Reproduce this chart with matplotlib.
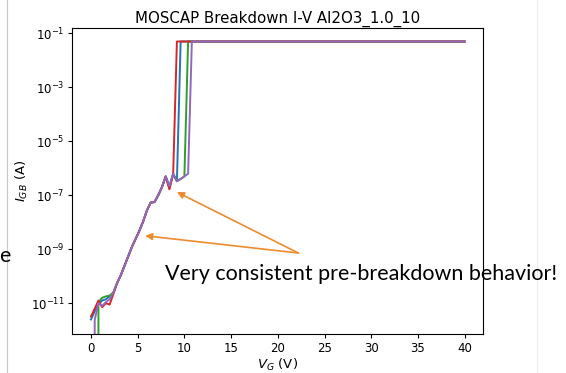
import numpy as np
import matplotlib.pyplot as plt
from matplotlib.lines import Line2D
from matplotlib.ticker import NullLocator

title = "MOSCAP Breakdown I-V Al2O3_1.0_10"
note = "Very consistent pre-breakdown behavior!"
x_ticks = [0, 5, 10, 15, 20, 25, 30, 35, 40]
y_ticks = [1e-11, 1e-9, 1e-7, 1e-5, 1e-3, 1e-1]

# gate voltage (V) and gate current (A) per device
v_blue = [0.0, 0.4, 0.8, 1.2, 1.6, 2.0, 2.4, 2.8, 3.2, 3.6, 4.0, 4.4, 4.8,
          5.2, 5.6, 6.0, 6.4, 6.8, 7.2, 7.6, 8.0, 8.4, 8.8, 9.2, 9.6, 40.0]
i_blue = [2.5e-12, 5.0e-12, 8.9e-12, 1.26e-11, 1.4e-11, 1.8e-11, 2.5e-11,
          5.6e-11, 1.1e-10, 2.5e-10, 5.6e-10, 1.26e-9, 2.5e-9, 5.0e-9,
          1.1e-8, 2.8e-8, 5.4e-8, 5.6e-8, 1.0e-7, 2.0e-7, 5.0e-7, 1.9e-7,
          6.0e-7, 3.3e-7, 0.05, 0.05]

v_green = [0.0, 0.4, 0.8, 1.2, 1.6, 2.0, 2.4, 2.8, 3.2, 3.6, 4.0, 4.4, 4.8,
           5.2, 5.6, 6.0, 6.4, 6.8, 7.2, 7.6, 8.0, 8.4, 8.8, 9.2, 9.6, 10.0,
           10.4, 40.0]
i_green = [-2e-12, -1e-12, 1.1e-11, 1.6e-11, 1.8e-11, 1.9e-11, 2.5e-11,
           5.6e-11, 1.1e-10, 2.5e-10, 5.6e-10, 1.26e-9, 2.5e-9, 5.0e-9,
           1.1e-8, 2.8e-8, 5.4e-8, 5.6e-8, 1.0e-7, 2.0e-7, 5.0e-7, 2.1e-7,
           6.3e-7, 3.4e-7, 4.0e-7, 5.0e-7, 0.05, 0.05]

v_red = [0.0, 0.4, 0.8, 1.2, 1.6, 2.0, 2.4, 2.8, 3.2, 3.6, 4.0, 4.4, 4.8,
         5.2, 5.6, 6.0, 6.4, 6.8, 7.2, 7.6, 8.0, 8.4, 8.8, 9.2, 40.0]
i_red = [3.2e-12, 6.3e-12, 1.26e-11, 7.1e-12, 1.0e-11, 8.9e-12, 2.2e-11,
         5.6e-11, 1.1e-10, 2.5e-10, 5.6e-10, 1.26e-9, 2.5e-9, 5.0e-9,
         1.1e-8, 2.8e-8, 5.4e-8, 5.6e-8, 1.0e-7, 2.0e-7, 5.0e-7, 1.66e-7,
         6.3e-7, 0.05, 0.05]

v_purple = [0.0, 0.4, 0.8, 1.2, 1.6, 2.0, 2.4, 2.8, 3.2, 3.6, 4.0, 4.4, 4.8,
            5.2, 5.6, 6.0, 6.4, 6.8, 7.2, 7.6, 8.0, 8.4, 8.8, 9.2, 9.6, 10.0,
            10.4, 10.8, 40.0]
i_purple = [-2e-12, 2.4e-12, 1.0e-11, 8.0e-12, 1.1e-11, 1.4e-11, 2.5e-11,
            5.6e-11, 1.1e-10, 2.5e-10, 5.6e-10, 1.26e-9, 2.5e-9, 5.0e-9,
            1.1e-8, 2.8e-8, 5.4e-8, 5.6e-8, 1.0e-7, 2.0e-7, 5.0e-7, 2.2e-7,
            6.3e-7, 3.3e-7, 4.0e-7, 5.0e-7, 6.3e-7, 0.05, 0.05]

plt.rcParams['font.size'] = 8.5

fig = plt.figure(figsize=(5.66, 3.73), dpi=100)
ax = fig.add_axes([0.1277, 0.1046, 0.7262, 0.8204])

ax.plot(v_blue, i_blue, color="C0", lw=1.4)
ax.plot(v_green, i_green, color="C2", lw=1.4)
ax.plot(v_red, i_red, color="C3", lw=1.4)
ax.plot(v_purple, i_purple, color="C4", lw=1.4)

ax.set_yscale("log")
ax.set_xlim(-2, 42)
ax.set_ylim(10**-12.14, 10**-0.8)
ax.set_yticks(y_ticks)
ax.yaxis.set_minor_locator(NullLocator())
ax.set_xticks(x_ticks)
ax.tick_params(length=3, pad=2.5)

ax.set_title(title, fontsize=10.8, pad=4)
ax.set_xlabel("$V_G$ (V)", fontsize=9.5, labelpad=1.5)
ax.set_ylabel("$I_{GB}$ (A)", fontsize=9.5, labelpad=1)

# arrows pointing at the pre-breakdown curves
orange = "#ED8B2F"
for tip in [(9.2, 10**-6.88), (5.8, 10**-8.5)]:
    ax.annotate("", xy=tip, xytext=(22.2, 10**-9.14),
                arrowprops=dict(arrowstyle="-|>", color=orange, lw=1.2,
                                mutation_scale=10, shrinkA=0, shrinkB=0))

fig.text(0.2915, 0.265, note, family="Lato", fontsize=15.5,
         va="center", ha="left")
fig.text(0.019, 0.315, "e", family="Lato", fontsize=15.5,
         va="center", ha="right")

# slide frame edges
fig.add_artist(Line2D([0.012, 0.012], [0, 1], color="#c8c8c8", lw=0.8))
fig.add_artist(Line2D([0.949, 0.949], [0, 1], color="#ececec", lw=0.8))

fig.savefig("out.png", dpi=100)
